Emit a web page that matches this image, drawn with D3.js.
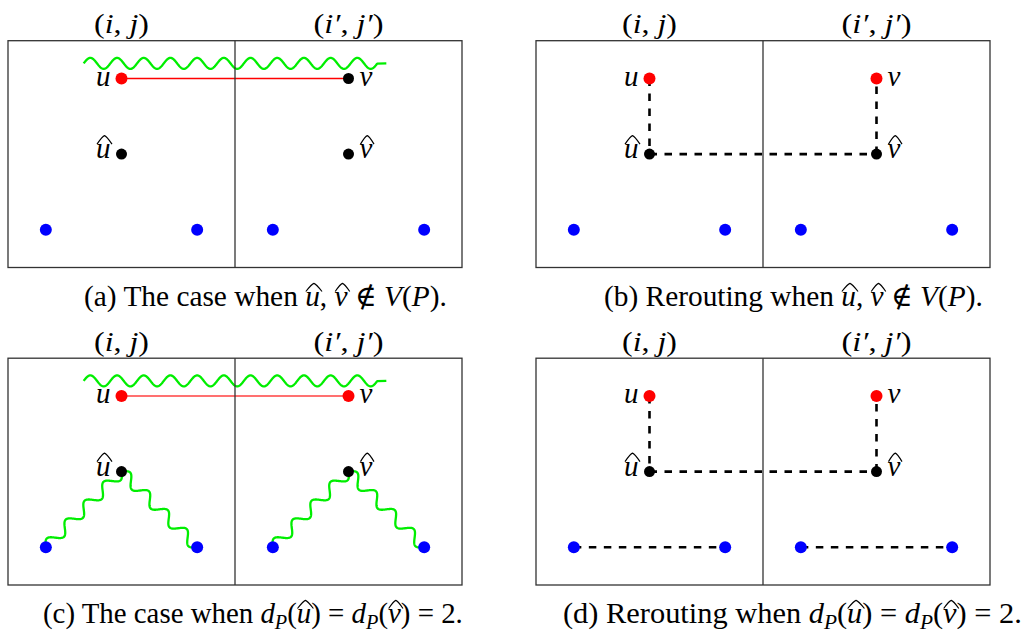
<!DOCTYPE html>
<html>
<head>
<meta charset="utf-8">
<script src="https://cdn.jsdelivr.net/npm/d3@7"></script>
<style>
  body { margin: 0; background: #fff; }
  text { white-space: pre; }
</style>
</head>
<body>
<svg id="fig" width="1027" height="635"></svg>
<script>
// node positions in grid units (x from the left edge, y from the top edge of a box)
var nodeNames = ["u", "v", "uh", "vh", "b1", "b2", "b3", "b4", "w0", "w1"];
var nodeX = [3, 9, 3, 9, 1, 5, 7, 11, 2, 10];
var nodeY = [1, 1, 3, 3, 5, 5, 5, 5, 0.6, 0.6];
var nodeKind = ["end", "end", "hat", "hat", "blue", "blue", "blue", "blue", null, null];
var nodeLabel = ["u", "v", "u", "v", null, null, null, null, null, null];
var nodeHat = [false, false, true, true, false, false, false, false, false, false];

// cell names above each half of a box
var cellLabels = [
  [["(", "rm"], ["i", "it"], [", ", "rm"], ["j", "it"], [")", "rm"]],
  [["(", "rm"], ["i\u2032", "it"], [", ", "rm"], ["j\u2032", "it"], [")", "rm"]]
];
var cellNode = ["u", "v"];

// panels
var panels = ["a", "b", "c", "d"];
var panelCol = [0, 1, 0, 1];
var panelRow = [0, 0, 1, 1];
var vIsRed = [false, true, true, true];

var edgesA = [["u", "v", "edge"], ["w0", "w1", "path"]];
var edgesB = [["u", "uh", "reroute"], ["uh", "vh", "reroute"], ["vh", "v", "reroute"]];
var edgesC = [["u", "v", "edgeLight"], ["w0", "w1", "path"],
  ["uh", "b1", "path"], ["uh", "b2", "path"], ["vh", "b3", "path"], ["vh", "b4", "path"]];
var edgesD = edgesB.concat([["b1", "b2", "reroute"], ["b3", "b4", "reroute"]]);
var panelEdges = [edgesA, edgesB, edgesC, edgesD];

var captions = [
  [["(a) The case when ", "rm"], ["u", "hat"], [", ", "rm"], ["v", "hat"], [" \u2209 ", "rm"], ["V", "it"], ["(", "rm"], ["P", "it"], [").", "rm"]],
  [["(b) Rerouting when ", "rm"], ["u", "hat"], [", ", "rm"], ["v", "hat"], [" \u2209 ", "rm"], ["V", "it"], ["(", "rm"], ["P", "it"], [").", "rm"]],
  [["(c) The case when ", "rm"], ["d", "it"], ["P", "sub"], ["(", "rm"], ["u", "hat"], [") = ", "rm"], ["d", "it"], ["P", "sub"], ["(", "rm"], ["v", "hat"], [") = 2.", "rm"]],
  [["(d) Rerouting when ", "rm"], ["d", "it"], ["P", "sub"], ["(", "rm"], ["u", "hat"], [") = ", "rm"], ["d", "it"], ["P", "sub"], ["(", "rm"], ["v", "hat"], [") = 2.", "rm"]]
];

// layout
var FONT = "'Liberation Serif', 'DejaVu Serif', serif";
var colX0 = [8, 536];
var rowY0 = [40.7, 358.2];
var boxW = 454, boxH = 226.8;
var capLeft = [84, 604, 43, 563];
var capRight = [447, 983, 463, 1022];
var capBase = [306, 306, 623, 623];

var svg = d3.select("#fig");

// wide hat over the span x0..x1, bottom at yb, apex at yt
function hatPath(x0, x1, yb, yt) {
  var xc = (x0 + x1) / 2;
  return "M" + x0 + "," + yb + "Q" + (xc - 2) + "," + (yt + 0.5) + " " + xc + "," + yt +
    "Q" + (xc + 2) + "," + (yt + 0.5) + " " + x1 + "," + yb;
}

function rich(g, pieces, size) {
  var t = g.append("text").attr("font-family", FONT).attr("font-size", size).attr("fill", "#000");
  var shifted = false, idx = 0, hats = [];
  pieces.forEach(function (p) {
    var ts = t.append("tspan").text(p[0]);
    if (p[1] === "it" || p[1] === "hat") ts.attr("font-style", "italic");
    if (p[1] === "hat") hats.push(idx);
    if (p[1] === "sub") {
      ts.attr("font-style", "italic").attr("font-size", size * 0.7).attr("dy", size * 0.2);
      shifted = true;
    } else if (shifted) {
      ts.attr("dy", -size * 0.2);
      shifted = false;
    }
    idx += p[0].length;
  });
  hats.forEach(function (i) {
    var a = t.node().getStartPositionOfChar(i), b = t.node().getEndPositionOfChar(i);
    g.append("path").attr("d", hatPath(a.x + 0.5, b.x + 2, -size * 0.5, -size * 0.78))
      .attr("fill", "none").attr("stroke", "#000").attr("stroke-width", 1.1);
  });
  return t;
}

// stretch a rich text so it spans x0..x1
function fit(g, pieces, size, x0, x1, base) {
  var wrap = g.append("g");
  var t = rich(wrap, pieces, size);
  var bb = t.node().getBBox();
  var sx = (x1 - x0) / bb.width;
  wrap.attr("transform", "translate(" + (x0 - bb.x * sx) + "," + base + ") scale(" + sx + ",1)");
}

function snake(p0, p1) {
  var A = 5.5, P = 26.7;
  var dx = p1[0] - p0[0], dy = p1[1] - p0[1];
  var len = Math.sqrt(dx * dx + dy * dy);
  var ux = dx / len, uy = dy / len;
  var nx = uy, ny = -ux;
  var waveLen = Math.floor(len / P + 0.05) * P;
  var pts = [];
  for (var s = 0; s <= waveLen; s += 0.5) {
    var o = A * Math.sin(2 * Math.PI * s / P);
    pts.push([p0[0] + ux * s + nx * o, p0[1] + uy * s + ny * o]);
  }
  pts.push([p1[0], p1[1]]);
  return d3.line()(pts);
}

panels.forEach(function (key, pi) {
  var bx = colX0[panelCol[pi]], by = rowY0[panelRow[pi]];
  var x = d3.scaleLinear().domain([0, 12]).range([bx, bx + boxW]);
  var y = d3.scaleLinear().domain([0, 6]).range([by, by + boxH]);
  var g = svg.append("g").attr("class", "panel-" + key);

  var pos = {};
  nodeNames.forEach(function (n, i) { pos[n] = [x(nodeX[i]), y(nodeY[i])]; });

  // edges
  panelEdges[pi].forEach(function (e) {
    var a = pos[e[0]], b = pos[e[1]];
    if (e[2] === "path") {
      g.append("path").attr("d", snake(a, b)).attr("fill", "none")
        .attr("stroke", "#00ee00").attr("stroke-width", 2.3).attr("stroke-linejoin", "round");
    } else {
      var l = g.append("line").attr("x1", a[0]).attr("y1", a[1]).attr("x2", b[0]).attr("y2", b[1]);
      if (e[2] === "edge") l.attr("stroke", "#ff0000").attr("stroke-width", 1.3);
      if (e[2] === "edgeLight") l.attr("stroke", "#ff7070").attr("stroke-width", 2.2);
      if (e[2] === "reroute") l.attr("stroke", "#000").attr("stroke-width", 2.6).attr("stroke-dasharray", "7.5,7.5");
    }
  });

  // box and divider
  g.append("rect").attr("x", x(0)).attr("y", y(0)).attr("width", x(12) - x(0)).attr("height", y(6) - y(0))
    .attr("fill", "none").attr("stroke", "#333").attr("stroke-width", 1.3);
  g.append("line").attr("x1", x(6)).attr("x2", x(6)).attr("y1", y(0)).attr("y2", y(6))
    .attr("stroke", "#333").attr("stroke-width", 1.3);

  // nodes
  nodeNames.forEach(function (n, i) {
    var k = nodeKind[i];
    if (!k) return;
    var fill = k === "blue" ? "#0000ff" : k === "hat" ? "#000" : "#ff0000";
    if (n === "v" && !vIsRed[pi]) fill = "#000";
    g.append("circle").attr("cx", pos[n][0]).attr("cy", pos[n][1])
      .attr("r", fill === "#000" ? 5.5 : 6).attr("fill", fill);
    if (nodeLabel[i]) {
      var left = n === "u" || n === "uh";
      var base = pos[n][1] + (nodeHat[i] ? 4 : 7);
      var t = g.append("text").attr("font-family", FONT).attr("font-size", 29).attr("font-style", "italic")
        .attr("text-anchor", left ? "end" : "start")
        .attr("x", pos[n][0] + (left ? -11 : 11))
        .attr("y", base)
        .text(nodeLabel[i]);
      if (nodeHat[i]) {
        var bb = t.node().getBBox();
        g.append("path").attr("d", hatPath(bb.x + 1, bb.x + bb.width + 1.5, base - 14, base - 22.5))
          .attr("fill", "none").attr("stroke", "#000").attr("stroke-width", 1.2);
      }
    }
  });

  // cell names
  cellLabels.forEach(function (lab, ci) {
    var cx = pos[cellNode[ci]][0];
    var w = ci === 0 ? 55 : 70;
    fit(g, lab, 28, cx - w / 2, cx + w / 2, by - 7.5);
  });

  // caption
  fit(g, captions[pi], 29, capLeft[pi], capRight[pi], capBase[pi]);
});
</script>
</body>
</html>
